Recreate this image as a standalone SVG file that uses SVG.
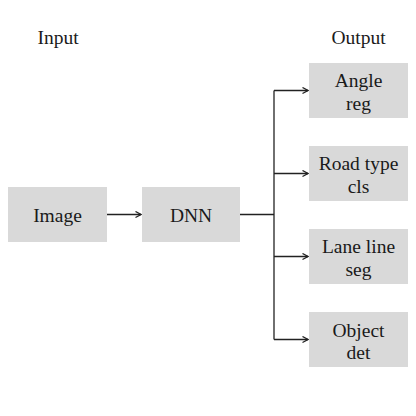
<svg xmlns="http://www.w3.org/2000/svg" width="416" height="416" viewBox="0 0 416 416">
<style>
.box{fill:#d9d9d9;stroke:none}
.t{font-family:"Liberation Serif","Times New Roman",serif;font-size:19.5px;fill:#1a1a1a;text-anchor:middle}
.c{fill:none;stroke:#222;stroke-width:1.3}
</style>
<defs>
<marker id="ah" markerWidth="8" markerHeight="8" refX="7" refY="4" orient="auto" markerUnits="userSpaceOnUse">
<path d="M1.5,1 L7,4 L1.5,7" fill="none" stroke="#222" stroke-width="1.3"/>
</marker>
</defs>
<rect width="416" height="416" fill="#fff"/>
<text class="t" x="58" y="43.5">Input</text>
<text class="t" x="358.5" y="43.5">Output</text>
<g id="connectors">
<line class="c" x1="107" y1="214.5" x2="141" y2="214.5" marker-end="url(#ah)"/>
<line class="c" x1="240" y1="214.5" x2="274" y2="214.5"/>
<line class="c" x1="274" y1="90.5" x2="274" y2="339.5"/>
<line class="c" x1="274" y1="90.5" x2="308" y2="90.5" marker-end="url(#ah)"/>
<line class="c" x1="274" y1="173.5" x2="308" y2="173.5" marker-end="url(#ah)"/>
<line class="c" x1="274" y1="256.5" x2="308" y2="256.5" marker-end="url(#ah)"/>
<line class="c" x1="274" y1="339.5" x2="308" y2="339.5" marker-end="url(#ah)"/>
</g>
<g id="image"><rect class="box" x="8" y="187" width="99" height="55"/><text class="t" x="57.5" y="221.5">Image</text></g>
<g id="dnn"><rect class="box" x="142" y="187" width="98" height="55"/><text class="t" x="191" y="221.5">DNN</text></g>
<g id="angle"><rect class="box" x="309" y="63" width="99" height="55"/><text class="t" x="358.5" y="87">Angle</text><text class="t" x="358.5" y="109.5">reg</text></g>
<g id="road"><rect class="box" x="309" y="146" width="99" height="55"/><text class="t" x="358.5" y="170">Road type</text><text class="t" x="358.5" y="192.5">cls</text></g>
<g id="lane"><rect class="box" x="309" y="229" width="99" height="55"/><text class="t" x="358.5" y="253">Lane line</text><text class="t" x="358.5" y="275.5">seg</text></g>
<g id="object"><rect class="box" x="309" y="312" width="99" height="55"/><text class="t" x="358.5" y="336.5">Object</text><text class="t" x="358.5" y="359">det</text></g>
</svg>
